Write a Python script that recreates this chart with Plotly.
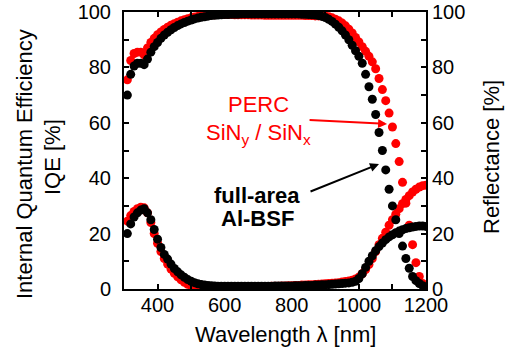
import plotly.graph_objects as go

wavelength = list(range(310, 1201, 10))

iqe_bsf = [70, 77.5, 80.5, 81.5, 81.5, 81, 83, 85.5, 87.5,
           89, 90.5, 91.7, 92.7, 93.6, 94.4, 95.1, 95.7, 96.2, 96.7,
           97.1, 97.5, 97.8, 98.1, 98.3, 98.5, 98.7, 98.8, 98.9, 99,
           99.1, 99.1, 99.2, 99.2, 99.2, 99.3, 99.3, 99.3, 99.3, 99.3,
           99.3, 99.3, 99.3, 99.3, 99.3, 99.3, 99.3, 99.3, 99.3, 99.3,
           99.3, 99.3, 99.3, 99.2, 99.2, 99.1, 99, 98.9, 98.7, 98.4,
           98, 97.4, 96.6, 95.6, 94.5, 93.2, 91.7, 90, 88, 86,
           84, 81.5, 77.5, 73, 68.5, 63, 56.5, 50, 43, 36,
           30, 25, 20, 15.5, 11, 7.5, 4.5, 3, 2, 1.2,
           0.7]

iqe_perc = [75.5, 82.5, 85, 85.5, 85.5, 84.5, 87, 89, 90.5,
            91.8, 92.8, 93.7, 94.5, 95.2, 95.8, 96.3, 96.8, 97.2, 97.6,
            97.9, 98.2, 98.4, 98.6, 98.8, 98.9, 99, 99, 99.1, 99.1,
            99.1, 99.1, 99.1, 99, 99, 99, 99, 99, 98.9, 98.9,
            98.9, 98.9, 98.8, 98.8, 98.8, 98.8, 98.8, 98.8, 98.8, 98.8,
            98.8, 98.8, 98.8, 98.8, 98.7, 98.7, 98.7, 98.6, 98.6, 98.6,
            98.5, 98.3, 97.9, 97.4, 96.8, 96, 95, 93.8, 92.4, 90.8,
            89.2, 87.5, 85.8, 84, 82, 79.5, 76, 72, 68, 63.5,
            58.5, 52.5, 46, 38.5, 31, 23, 16, 9.5, 4.5, 2,
            1]

r_bsf = [20, 23.5, 26, 27.5, 28.5, 29, 27.5, 25, 21.5,
         18, 15, 12.5, 10.8, 9, 7.4, 6.2, 5.1, 4.2, 3.4,
         2.8, 2.3, 1.9, 1.6, 1.4, 1.3, 1.2, 1.1, 1, 1,
         1, 1, 1, 1, 1, 1, 1, 1, 1, 1,
         1, 1, 1, 1, 1, 1.1, 1.1, 1.1, 1.1, 1.1,
         1.1, 1.2, 1.2, 1.2, 1.3, 1.3, 1.3, 1.4, 1.4, 1.5,
         1.5, 1.6, 1.7, 1.8, 1.9, 2, 2.1, 2.2, 2.4, 2.8,
         3.8, 5.5, 7.8, 10, 12, 13.8, 15.3, 16.6, 17.8, 18.8,
         19.6, 20.3, 20.9, 21.4, 21.8, 22.1, 22.4, 22.6, 22.7, 22.7,
         22.6]

r_perc = [24.5, 26.5, 28, 29, 29.5, 29.3, 27.5, 24, 20,
          16.5, 13.5, 11, 9, 7.2, 5.7, 4.4, 3.3, 2.4, 1.7,
          1.2, 0.9, 0.7, 0.6, 0.5, 0.5, 0.5, 0.5, 0.5, 0.5,
          0.5, 0.5, 0.5, 0.6, 0.6, 0.6, 0.7, 0.7, 0.7, 0.8,
          0.8, 0.8, 0.9, 0.9, 1, 1, 1, 1.1, 1.1, 1.2,
          1.2, 1.3, 1.3, 1.4, 1.4, 1.5, 1.5, 1.6, 1.7, 1.8,
          1.9, 2, 2.1, 2.2, 2.3, 2.5, 2.7, 2.9, 3.2, 3.6,
          4.3, 5.5, 7, 8.8, 11, 13.5, 16, 18.3, 20.5, 23,
          25, 27, 29, 30.8, 32.3, 33.7, 35, 36, 36.8, 37.3,
          37.5]

x_title = "Wavelength λ [nm]"
y_title_1 = "Internal Quantum Efficiency"
y_title_2 = "IQE [%]"
y2_title = "Reflectance [%]"

RED = "#ff0000"
BLACK = "#000000"
FONT = "Liberation Sans, Arial, sans-serif"
TXT = 22
TICK = 20

W, H = 509, 355
L, R, T, B = 124, 83, 12, 66
PW, PH = W - L - R, H - T - B


def px(xp):
    # window pixel -> paper x
    return (xp - L) / PW


def py(yp):
    # window pixel -> paper y
    return (H - B - yp) / PH


fig = go.Figure()
mk = dict(size=9, line=dict(width=0))
fig.add_trace(go.Scatter(x=wavelength, y=iqe_perc, mode="markers", marker=dict(color=RED, **mk), name="PERC IQE"))
fig.add_trace(go.Scatter(x=wavelength, y=r_perc, mode="markers", marker=dict(color=RED, **mk), name="PERC R"))
fig.add_trace(go.Scatter(x=wavelength, y=iqe_bsf, mode="markers", marker=dict(color=BLACK, **mk), name="Al-BSF IQE"))
fig.add_trace(go.Scatter(x=wavelength, y=r_bsf, mode="markers", marker=dict(color=BLACK, **mk), name="Al-BSF R"))
# empty trace so the top frame axis and the right (reflectance) axis are drawn
fig.add_trace(go.Scatter(x=[None], y=[None], xaxis="x2", yaxis="y2", mode="markers",
                         showlegend=False, hoverinfo="skip"))

axis_common = dict(
    showline=True, linewidth=2, linecolor="black",
    ticks="inside", ticklen=5, tickwidth=1.5, tickcolor="black",
    showgrid=False, zeroline=False, automargin=False,
    tickfont=dict(family=FONT, size=TICK, color="black"),
)
minor_common = dict(ticks="inside", ticklen=5, tickwidth=1.5, tickcolor="black")

fig.update_layout(
    width=W, height=H,
    margin=dict(l=L, r=R, t=T, b=B, autoexpand=False),
    plot_bgcolor="white", paper_bgcolor="white",
    showlegend=False,
    font=dict(family=FONT, size=TXT, color="black"),
    xaxis=dict(range=[300, 1200], tick0=0, dtick=200, mirror="allticks", ticklabelstandoff=-3,
               minor=dict(dtick=100, tick0=0, **minor_common), **axis_common),
    xaxis2=dict(range=[300, 1200], tick0=0, dtick=200, overlaying="x", side="top", anchor="y2",
                showticklabels=False,
                minor=dict(dtick=100, tick0=0, **minor_common), **axis_common),
    yaxis=dict(range=[0, 100], tick0=0, dtick=20, mirror=True, ticklabelstandoff=7,
               ticklabeloverflow="allow",
               minor=dict(dtick=10, tick0=0, **minor_common), **axis_common),
    yaxis2=dict(range=[0, 100], tick0=0, dtick=20, overlaying="y", side="right", anchor="x2",
                ticklabeloverflow="allow",
                minor=dict(dtick=10, tick0=0, **minor_common), **axis_common),
)

# axis titles
title_kw = dict(xref="paper", yref="paper", showarrow=False, xanchor="center", yanchor="middle",
                font=dict(family=FONT, size=TXT))
fig.add_annotation(x=px(285), y=py(334), text=x_title, **title_kw)
fig.add_annotation(x=px(24), y=py(164), text=y_title_1, textangle=-90, **title_kw)
fig.add_annotation(x=px(52), y=py(157), text=y_title_2, textangle=-90, **title_kw)
fig.add_annotation(x=px(491), y=py(157), text=y2_title, textangle=-90, **title_kw)

# labels
lab_kw = dict(showarrow=False, xanchor="center", yanchor="middle")
fig.add_annotation(x=701, y=66.6, text="PERC", font=dict(family=FONT, size=TXT, color=RED), **lab_kw)
fig.add_annotation(x=702, y=56, text="SiN<sub>y</sub> / SiN<sub>x</sub>",
                   font=dict(family=FONT, size=TXT, color=RED), **lab_kw)
fig.add_annotation(x=697, y=33.6, text="<b>full-area</b>", font=dict(family=FONT, size=TXT, color=BLACK), **lab_kw)
fig.add_annotation(x=699, y=25.6, text="<b>Al-BSF</b>", font=dict(family=FONT, size=TXT, color=BLACK), **lab_kw)

fig.add_annotation(x=1084, y=59.6, ax=-79, ay=-4, text="", showarrow=True, arrowhead=2, arrowsize=0.9,
                   arrowwidth=2, arrowcolor=RED, standoff=0)
fig.add_annotation(x=1060, y=45.1, ax=-70, ay=28, text="", showarrow=True, arrowhead=2, arrowsize=0.9,
                   arrowwidth=2, arrowcolor=BLACK, standoff=0)

fig.write_html("out.html", config={"displayModeBar": False},
               post_script="document.body.style.margin='0';document.body.style.overflow='hidden';")
